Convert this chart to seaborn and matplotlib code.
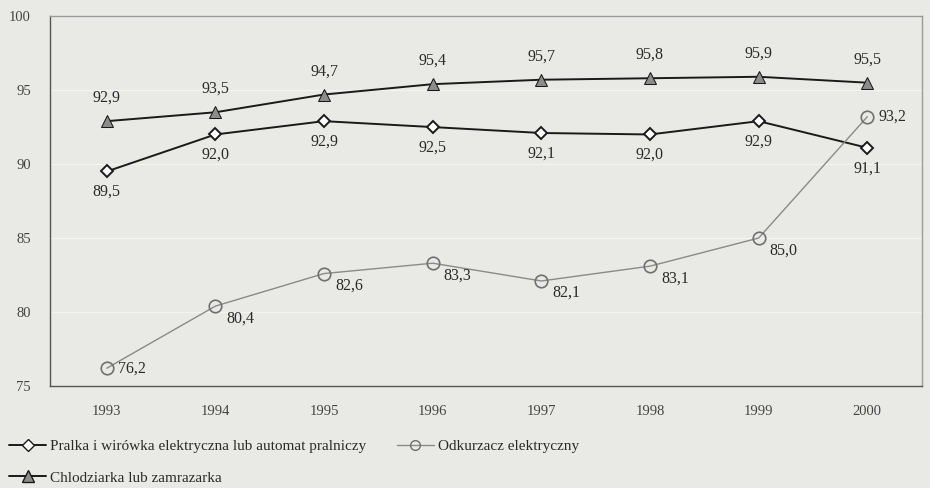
import numpy as np
import pandas as pd
import matplotlib
matplotlib.use("Agg")
import matplotlib.pyplot as plt
import seaborn as sns

years = ["1993", "1994", "1995", "1996", "1997", "1998", "1999", "2000"]
pralka = [89.5, 92.0, 92.9, 92.5, 92.1, 92.0, 92.9, 91.1]
odkurzacz = [76.2, 80.4, 82.6, 83.3, 82.1, 83.1, 85.0, 93.2]
chlodziarka = [92.9, 93.5, 94.7, 95.4, 95.7, 95.8, 95.9, 95.5]

names = [
    "Pralka i wirówka elektryczna lub automat pralniczy",
    "Chlodziarka lub zamrazarka",
    "Odkurzacz elektryczny",
]

df = pd.concat([
    pd.DataFrame({"rok": years, "wartosc": pralka, "seria": names[0]}),
    pd.DataFrame({"rok": years, "wartosc": chlodziarka, "seria": names[1]}),
    pd.DataFrame({"rok": years, "wartosc": odkurzacz, "seria": names[2]}),
])
df["x"] = df["rok"].map({y: i for i, y in enumerate(years)})

bg = "#e9e9e6"
sns.set_theme(style="white")
plt.rcParams["font.family"] = ["Liberation Serif", "DejaVu Serif"]

fig = plt.figure(figsize=(9.3, 4.88), dpi=100, facecolor=bg)
ax = fig.add_axes([0.054, 0.209, 0.937, 0.758], facecolor=bg)

palette = {names[0]: "#1a1a1a", names[1]: "#1a1a1a", names[2]: "#8a8a8a"}
markers = {names[0]: "D", names[1]: "^", names[2]: "o"}
sns.lineplot(data=df, x="x", y="wartosc", hue="seria", style="seria",
             palette=palette, markers=markers, dashes=False, ax=ax,
             linewidth=1.4, markersize=8, legend=False)

# marker styling per series
for line, name in zip(ax.lines, names):
    if name == names[0]:
        line.set_markerfacecolor("white")
        line.set_markeredgecolor("#1a1a1a")
        line.set_markersize(6.5)
        line.set_markeredgewidth(1.4)
    elif name == names[1]:
        line.set_markerfacecolor("#8c8c8c")
        line.set_markeredgecolor("#1a1a1a")
        line.set_markersize(9)
    else:
        line.set_markerfacecolor("none")
        line.set_markeredgecolor("#707070")
        line.set_markersize(9)
        line.set_linewidth(1.0)
        line.set_markeredgewidth(1.2)

fmt = lambda v: f"{v:.1f}".replace(".", ",")
txt = dict(fontsize=11.5, color="#2a2a2a")
for i, v in enumerate(chlodziarka):
    ax.annotate(fmt(v), (i, v), xytext=(0, 11), textcoords="offset points",
                ha="center", va="bottom", **txt)
for i, v in enumerate(pralka):
    ax.annotate(fmt(v), (i, v), xytext=(0, -9), textcoords="offset points",
                ha="center", va="top", **txt)
for i, v in enumerate(odkurzacz):
    dy = 0 if i in (0, 7) else -3
    ax.annotate(fmt(v), (i, v), xytext=(8, dy), textcoords="offset points",
                ha="left", va="center" if dy == 0 else "top", **txt)

ax.set_xlim(-0.52, 7.5)
ax.set_ylim(75, 100)
ax.set_yticks([75, 80, 85, 90, 95, 100])
ax.set_xticks(range(len(years)))
ax.set_xticklabels(years)
ax.set_xlabel("")
ax.set_ylabel("")
ax.tick_params(axis="both", labelsize=10.5, colors="#444444", length=0, pad=14)
ax.tick_params(axis="y", pad=14)
ax.yaxis.grid(True, color="#f3f3f1", linewidth=1.0)
for s in ax.spines.values():
    s.set_color("#555555")
    s.set_linewidth(1.0)
ax.spines["top"].set_color("#9a9a9a")
ax.spines["right"].set_color("#9a9a9a")

handles = [
    plt.Line2D([], [], color="#1a1a1a", lw=1.4, marker="D", ms=6,
               mfc="white", mec="#1a1a1a"),
    plt.Line2D([], [], color="#1a1a1a", lw=1.4, marker="^", ms=8,
               mfc="#8c8c8c", mec="#1a1a1a"),
    plt.Line2D([], [], color="#8a8a8a", lw=1.0, marker="o", ms=7,
               mfc="none", mec="#707070"),
]
fig.legend(handles, names, loc="lower left", bbox_to_anchor=(0.0, -0.012),
           ncol=2, frameon=False, fontsize=11, handlelength=2.4,
           handletextpad=0.3, columnspacing=2.0, labelspacing=1.15,
           borderaxespad=0.2, labelcolor="#2a2a2a")

fig.savefig("out.png", dpi=100, facecolor=bg)
